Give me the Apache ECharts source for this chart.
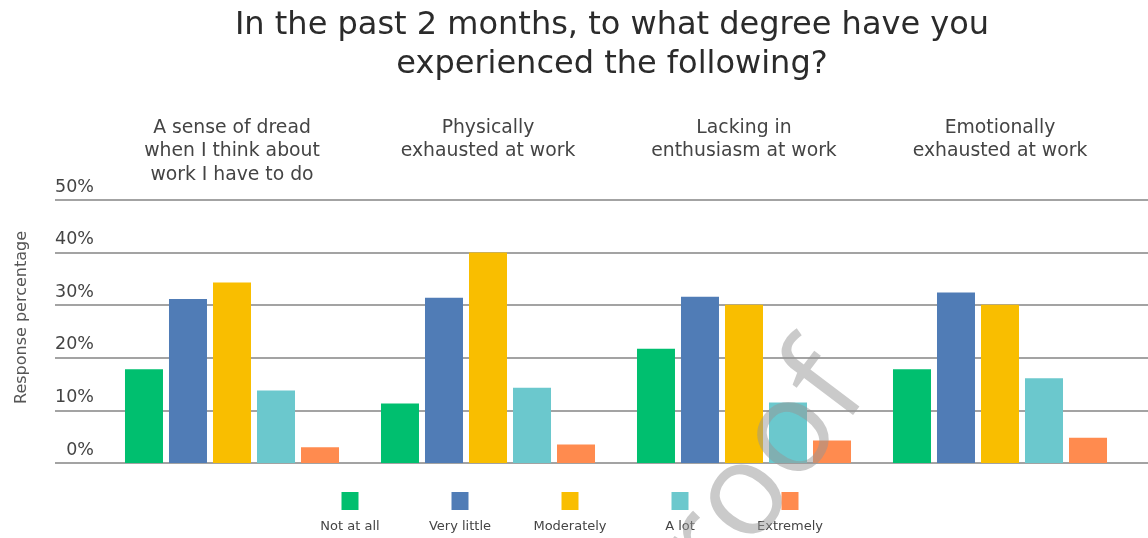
<!DOCTYPE html>
<html>
<head>
<meta charset="utf-8">
<script src="https://cdn.jsdelivr.net/npm/echarts@6/dist/echarts.min.js"></script>
<style>
html,body{margin:0;padding:0;background:#fff;}
#chart{width:1148px;height:538px;}
</style>
</head>
<body>
<div id="chart"></div>
<script>
const titleText = 'In the past 2 months, to what degree have you\nexperienced the following?';
const categories = [
  'A sense of dread\nwhen I think about\nwork I have to do',
  'Physically\nexhausted at work',
  'Lacking in\nenthusiasm at work',
  'Emotionally\nexhausted at work'
];
const seriesNames = ['Not at all', 'Very little', 'Moderately', 'A lot', 'Extremely'];
const seriesColors = ['#00BF6F', '#507CB6', '#F9BE00', '#6BC8CD', '#FF8B4F'];
const notAtAll   = [17.8, 11.3, 21.7, 17.8];
const veryLittle = [31.2, 31.4, 31.6, 32.4];
const moderately = [34.3, 40.0, 30.1, 30.1];
const aLot       = [13.8, 14.3, 11.5, 16.1];
const extremely  = [3.0, 3.5, 4.3, 4.8];
const seriesValues = [notAtAll, veryLittle, moderately, aLot, extremely];
const yMin = 0, yMax = 50, yStep = 10;
const yAxisName = 'Response percentage';
const watermark = 'proof';
const FONT = 'DejaVu Sans';

const chart = echarts.init(document.getElementById('chart'), null, {renderer: 'canvas'});

const legendGraphics = [];
seriesNames.forEach((name, i) => {
  const cx = 570 + (i - 2) * 110;
  legendGraphics.push({
    type: 'rect', left: cx - 8.5, top: 492,
    shape: {width: 17, height: 18},
    style: {fill: seriesColors[i]}
  });
  legendGraphics.push({
    type: 'text', x: cx, y: 520,
    style: {text: name, fill: '#444', fontSize: 13, fontFamily: FONT, align: 'center', verticalAlign: 'top'}
  });
});

const option = {
  backgroundColor: '#fff',
  animation: false,
  title: {
    text: titleText,
    left: 607,
    textAlign: 'center',
    top: 1,
    textStyle: {fontFamily: FONT, fontWeight: 'normal', fontSize: 32, lineHeight: 39, color: '#2b2b2b'}
  },
  grid: [
    {left: 55, right: 0, top: 200, bottom: 75},
    {left: 104, right: 20, top: 200, bottom: 75}
  ],
  xAxis: [
    {gridIndex: 0, type: 'value', min: 0, max: 1, show: false},
    {
      gridIndex: 1, type: 'category', position: 'top', data: categories,
      axisLine: {show: false}, axisTick: {show: false},
      axisLabel: {interval: 0, verticalAlign: 'top', margin: 84, lineHeight: 23.5,
        fontSize: 18.8, fontFamily: FONT, color: '#444'}
    }
  ],
  yAxis: [
    {
      gridIndex: 0, type: 'value', min: yMin, max: yMax, interval: yStep,
      axisLine: {show: false}, axisTick: {show: false},
      axisLabel: {inside: true, formatter: '{value}%', align: 'right', margin: 39,
        verticalAlign: 'bottom', padding: [0, 0, 4, 0], fontSize: 17.5, fontFamily: FONT, color: '#444'},
      splitLine: {lineStyle: {color: '#a3a3a3', width: 2}},
      name: yAxisName, nameLocation: 'middle', nameGap: 25, nameRotate: 90,
      nameTextStyle: {fontSize: 16, fontFamily: FONT, color: '#555', padding: [0, 0, 0, 28]}
    },
    {gridIndex: 1, type: 'value', min: yMin, max: yMax, interval: yStep, show: false}
  ],
  series: seriesNames.map((name, i) => ({
    name: name, type: 'bar', xAxisIndex: 1, yAxisIndex: 1,
    data: seriesValues[i], barWidth: 38, barGap: '15.8%',
    itemStyle: {color: seriesColors[i]}
  })),
  graphic: legendGraphics.concat([{
    type: 'text', x: 741, y: 502, rotation: 53 * Math.PI / 180, z: 100,
    style: {text: watermark, fontSize: 130, fontFamily: 'Open Sans', fill: 'rgba(150,150,150,0.5)',
      align: 'center', verticalAlign: 'middle'}
  }])
};
chart.setOption(option);
</script>
</body>
</html>
